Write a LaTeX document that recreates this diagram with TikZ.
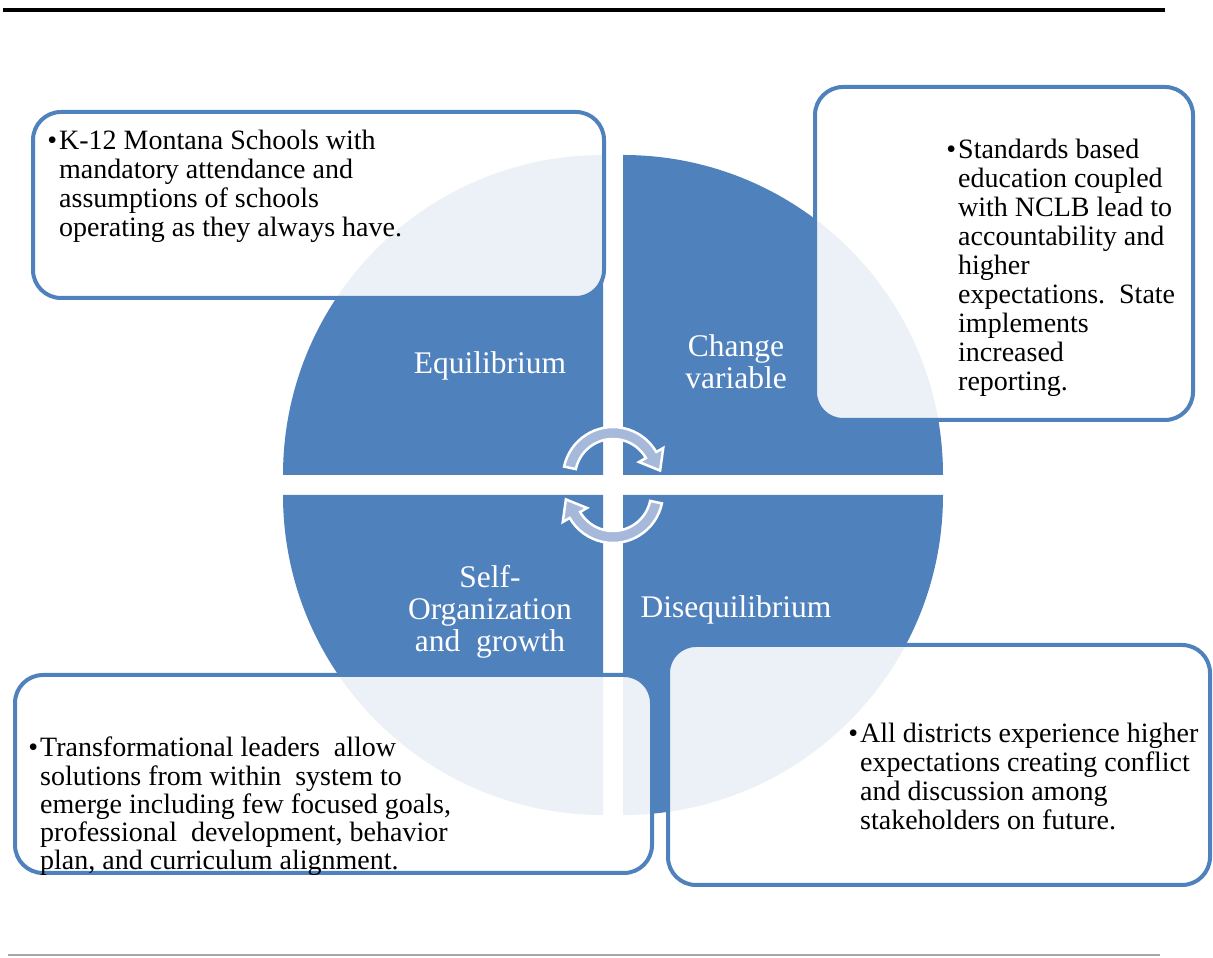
\documentclass[tikz,border=0pt]{standalone}
\usepackage{fontspec}
\setmainfont{Liberation Serif}
\usetikzlibrary{calc}
\definecolor{quadblue}{RGB}{79,129,189}
\definecolor{arrowfill}{RGB}{167,185,218}
\begin{document}
\begin{tikzpicture}[x=1pt,y=1pt,
  quad/.style={fill=quadblue},
  textbox/.style={draw=quadblue, line width=4pt, rounded corners=28pt, fill=white, fill opacity=0.89, rectangle, inner sep=0pt},
  boxtext/.style={anchor=base west, align=left, inner sep=0pt, font=\fontsize{28}{29}\selectfont},
  label/.style={align=center, inner sep=0pt, text=white, font=\fontsize{31.5}{32}\selectfont},
  cyclearrow/.style={fill=arrowfill, draw=white, line width=2.5pt, line join=miter}
]
\useasboundingbox (0,0) rectangle (1213,958);
% rules
\coordinate (tl0) at (3,948); \coordinate (tl1) at (1165,948);
\draw[line width=4pt] (tl0) -- (tl1);
\coordinate (bl0) at (8,3); \coordinate (bl1) at (1160,3);
\draw[line width=1.2pt, gray!70] (bl0) -- (bl1);
% quadrants
\fill[quad] (603,483) -- (603,803) arc[start angle=90, end angle=180, radius=320pt] -- cycle;
\fill[quad] (623,483) -- (943,483) arc[start angle=0, end angle=90, radius=320pt] -- cycle;
\fill[quad] (603,463) -- (283,463) arc[start angle=180, end angle=270, radius=320pt] -- cycle;
\fill[quad] (623,463) -- (623,143) arc[start angle=270, end angle=360, radius=320pt] -- cycle;
% labels
\node[label] (equil) at (490,592) {Equilibrium};
\node[label] (change) at (736,596) {Change\\variable};
\node[label] (selforg) at (490,346) {Self-\\Organization\\and\ \ growth};
\node[label] (disequil) at (736,348) {Disequilibrium};
% cycle arrows
\begin{scope}[shift={(613,481)}]
\path[cyclearrow] (168:50pt) arc[start angle=168, end angle=30, radius=50pt]
  -- (30:58pt) -- (47.1pt,6.4pt) -- (30:30pt) -- (30:38pt)
  arc[start angle=30, end angle=168, radius=38pt] -- cycle;
\end{scope}
\begin{scope}[shift={(613,465)}]
\path[cyclearrow] (-12:50pt) arc[start angle=-12, end angle=-150, radius=50pt]
  -- (210:58pt) -- (-47.1pt,-6.4pt) -- (210:30pt) -- (210:38pt)
  arc[start angle=-150, end angle=-12, radius=38pt] -- cycle;
\end{scope}
% text boxes
\node[textbox, minimum width=571pt, minimum height=186pt] (boxTL) at (318.5,753) {};
\node[textbox, minimum width=378pt, minimum height=333pt] (boxTR) at (1004,704.5) {};
\node[textbox, minimum width=637pt, minimum height=198pt] (boxBL) at (333.5,184) {};
\node[textbox, minimum width=542pt, minimum height=240pt] (boxBR) at (939,193) {};
% box texts (base anchor = baseline of last line)
\node[boxtext] (txtTL) at (59,721) {\llap{•\hspace{2pt}}K-12 Montana Schools with\\mandatory attendance and\\assumptions of schools\\operating as they always have.};
\node[boxtext] (txtTR) at (958,567) {\llap{•\hspace{2pt}}Standards based\\education coupled\\with NCLB lead to\\accountability and\\higher\\expectations.\ \ State\\implements\\increased\\reporting.};
\node[boxtext, font=\fontsize{28}{28.3}\selectfont] (txtBL) at (40,88) {\llap{•\hspace{2pt}}Transformational leaders\ \ allow\\solutions from within\ \ system to\\emerge including few focused goals,\\professional\ \ development, behavior\\plan, and curriculum alignment.};
\node[boxtext] (txtBR) at (860,128) {\llap{•\hspace{2pt}}All districts experience higher\\expectations creating conflict\\and discussion among\\stakeholders on future.};
\end{tikzpicture}
\end{document}
